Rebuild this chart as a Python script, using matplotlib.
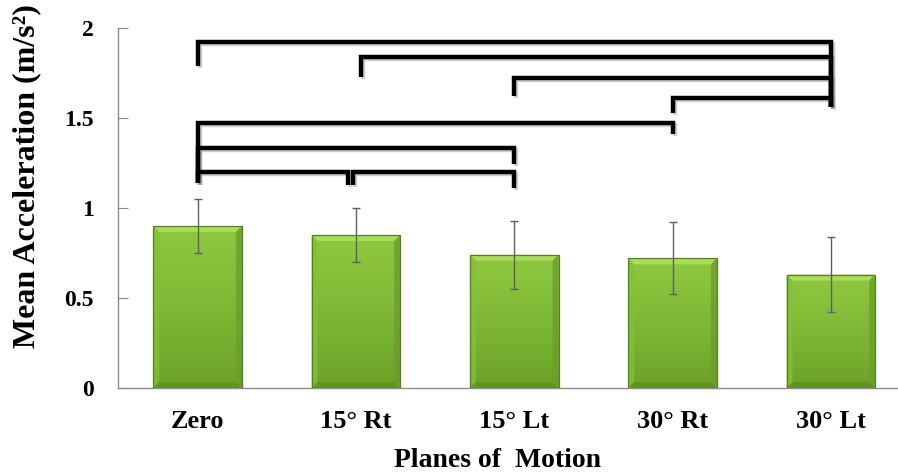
import numpy as np
import matplotlib
matplotlib.use('Agg')
import matplotlib.pyplot as plt
from matplotlib.patches import Rectangle, Polygon
from matplotlib.colors import LinearSegmentedColormap
import matplotlib.patheffects as pe

plt.rcParams['font.family'] = ['Liberation Serif', 'DejaVu Serif']
plt.rcParams['font.weight'] = 'bold'

planes = ['Zero', '15° Rt', '15° Lt', '30° Rt', '30° Lt']
mean_acc = [0.90, 0.85, 0.74, 0.72, 0.63]
sd_acc = [0.15, 0.15, 0.19, 0.20, 0.21]

# significance brackets: (from bar, to bar), bar height, leg ends
sig_pairs = [(0, 4), (1, 4), (2, 4), (3, 4), (0, 3), (0, 2), (0, 1), (1, 2)]
sig_y = [1.92, 1.84, 1.72, 1.61, 1.47, 1.335, 1.20, 1.20]
sig_left_end = [1.79, 1.73, 1.62, 1.53, 1.14, 1.14, 1.14, 1.13]
sig_right_end = [1.56, 1.56, 1.56, 1.56, 1.41, 1.245, 1.13, 1.11]

fig = plt.figure(figsize=(8.98, 4.73), dpi=100)
ax = fig.add_axes([117.5 / 898, 85 / 473, 792.5 / 898, 360 / 473])

x = np.arange(len(planes))
bw = 0.56
green = LinearSegmentedColormap.from_list('g', ['#6ba228', '#7fb835', '#8fc840'])
grad = np.linspace(0, 1, 100).reshape(-1, 1)
px_x = 5.006 / 792.5
px_y = 2.0 / 360

for xi, h in zip(x, mean_acc):
    x0, x1 = xi - bw / 2, xi + bw / 2
    rect = Rectangle((x0, 0), bw, h, facecolor='none', edgecolor='#55801e',
                     lw=0.9, zorder=3)
    ax.add_patch(rect)
    im = ax.imshow(grad, extent=[x0, x1, 0, h], origin='lower', cmap=green,
                   aspect='auto', zorder=2)
    im.set_clip_path(rect)
    # bevel edges
    bx, by = 6 * px_x, 6 * px_y
    ax.add_patch(Polygon([[x0, h], [x1, h], [x1 - bx, h - by], [x0 + bx, h - by]],
                         closed=True, facecolor='#abdb5a', edgecolor='none', zorder=2.5))
    ax.add_patch(Polygon([[x0, 0], [x0, h], [x0 + bx, h - by], [x0 + bx, by]],
                         closed=True, facecolor='#86bf38', alpha=0.8,
                         edgecolor='none', zorder=2.5))
    ax.add_patch(Polygon([[x1, 0], [x1, h], [x1 - bx, h - by], [x1 - bx, by]],
                         closed=True, facecolor='#6a9f2a', alpha=0.8,
                         edgecolor='none', zorder=2.5))
    ax.add_patch(Polygon([[x0, 0], [x1, 0], [x1 - bx, by], [x0 + bx, by]],
                         closed=True, facecolor='#5f9222', alpha=0.8,
                         edgecolor='none', zorder=2.5))

ax.errorbar(x, mean_acc, yerr=sd_acc, fmt='none', ecolor='#606060',
            elinewidth=1, capsize=3, capthick=1, zorder=4)

shadow = [pe.SimpleLineShadow(offset=(1.5, -1.5), shadow_color='#888888', alpha=0.4),
          pe.Normal()]
nudge = {6: (0.0, -0.05), 7: (-0.02, 0.0), 1: (0.03, 0.0)}
for k, ((i, j), yb, yl, yr) in enumerate(zip(sig_pairs, sig_y, sig_left_end, sig_right_end)):
    dl, dr = nudge.get(k, (0.0, 0.0))
    xl, xr = i + dl, j + dr
    ax.plot([xl, xl, xr, xr], [yl, yb, yb, yr], color='black', lw=3.2,
            solid_joinstyle='miter', solid_capstyle='butt', zorder=5,
            path_effects=shadow)

ax.set_xlim(-0.506, 4.5)
ax.set_ylim(0, 2)
ax.set_xticks(x)
ax.set_xticklabels(planes)
ax.set_yticks([0, 0.5, 1, 1.5, 2])
ax.set_yticklabels(['0', '0.5', '1', '1.5', '2'])
ax.tick_params(axis='x', length=0, labelsize=19, pad=16)
ax.tick_params(axis='y', direction='in', length=7, color='#8c8c8c',
               labelsize=17, pad=17)
for s in ['top', 'right']:
    ax.spines[s].set_visible(False)
for s in ['left', 'bottom']:
    ax.spines[s].set_color('#8c8c8c')
    ax.spines[s].set_linewidth(1)

fig.text(27 / 898, 1 - 176 / 473, 'Mean Acceleration (m/s²)', rotation=90,
         ha='center', va='center', fontsize=23, fontweight='bold')
fig.text(498 / 898, 6 / 473, 'Planes of  Motion', ha='center', va='baseline',
         fontsize=20, fontweight='bold')

fig.savefig('out.png', dpi=100)
